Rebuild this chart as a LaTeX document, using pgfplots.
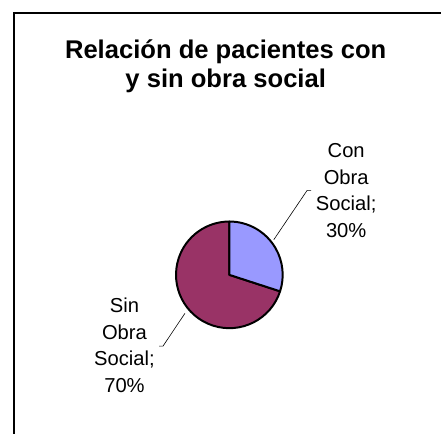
\documentclass[border=0pt]{standalone}
\usepackage{pgfplots}
\usepackage{pgfplotstable}
\usepackage{fontspec}
\setmainfont{Liberation Sans}
\pgfplotsset{compat=1.18}
\definecolor{conc}{HTML}{9999FF}
\definecolor{sinc}{HTML}{993366}
\pgfplotstableread{
name value
Con 30
Sin 70
}\piedata
\begin{document}
\pgfplotstablegetelem{0}{value}\of\piedata\let\vcon\pgfplotsretval
\pgfplotstablegetelem{1}{value}\of\piedata\let\vsin\pgfplotsretval
\pgfmathsetmacro\aone{90-3.6*\vcon}
\pgfmathsetmacro\atwo{\aone-3.6*\vsin}
\begin{tikzpicture}
\path[use as bounding box] (0,0) rectangle (441bp,439bp);
\begin{axis}[at={(0,0)}, anchor=south west, scale only axis,
  width=441bp, height=439bp, xmin=0, xmax=441, ymin=0, ymax=439,
  hide axis, clip=false]
% frame
\draw[line width=1.6bp] (axis cs:8.5,0) -- (axis cs:8.5,425.7) -- (axis cs:441,425.7);
% pie
\filldraw[fill=sinc, line width=2bp, line join=round] (axis cs:226.7,160.7) -- ++(\aone:54bp)
  arc[start angle=\aone, end angle=\atwo, radius=54bp] -- cycle;
\filldraw[fill=conc, line width=2bp, line join=round] (axis cs:226.7,160.7) -- ++(90:54bp)
  arc[start angle=90, end angle=\aone, radius=54bp] -- cycle;
% leader lines
\draw[line width=0.6bp] (axis cs:271.7,196.3) -- (axis cs:305.5,246.3) -- (axis cs:309.5,246.3);
\draw[line width=0.6bp] (axis cs:181.7,121.7) -- (axis cs:159.5,88.5) -- (axis cs:155.5,88.5);
% title
\node[anchor=base, font=\bfseries\fontsize{26}{30}\selectfont, inner sep=0pt] at (axis cs:223,379.5) {Relación de pacientes con};
\node[anchor=base, font=\bfseries\fontsize{26}{30}\selectfont, inner sep=0pt] at (axis cs:223,350) {y sin obra social};
% labels
\tikzset{lbl/.style={anchor=base, font=\fontsize{20.5}{24}\selectfont, inner sep=0pt}}
\node[lbl] at (axis cs:345,279.2) {Con};
\node[lbl] at (axis cs:345,252.3) {Obra};
\node[lbl] at (axis cs:345,225.7) {Social;};
\node[lbl] at (axis cs:345,199) {30\%};
\node[lbl] at (axis cs:120.5,122.3) {Sin};
\node[lbl] at (axis cs:120.5,95.7) {Obra};
\node[lbl] at (axis cs:120.5,69) {Social;};
\node[lbl] at (axis cs:120.5,42) {70\%};
\end{axis}
\end{tikzpicture}
\end{document}
